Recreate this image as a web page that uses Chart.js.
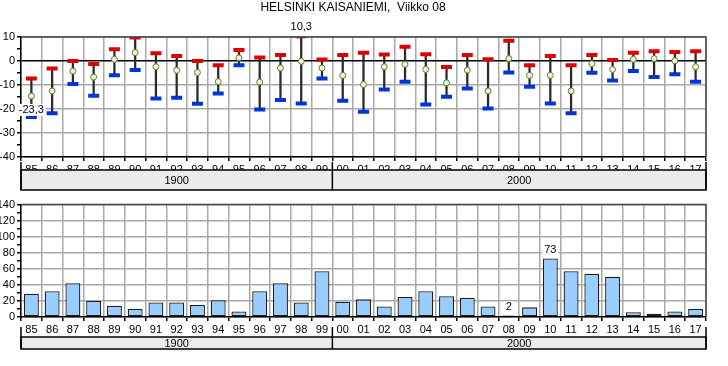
<!DOCTYPE html>
<html>
<head>
<meta charset="utf-8">
<script src="https://cdn.jsdelivr.net/npm/chart.js@4/dist/chart.umd.min.js"></script>
<style>
body{margin:0;background:#fff;width:728px;height:366px;overflow:hidden;position:relative}
canvas{position:absolute;left:0}
#temp{top:0}
#rain{top:196px}
</style>
</head>
<body>
<canvas id="temp" width="728" height="196"></canvas>
<canvas id="rain" width="728" height="170"></canvas>
<script>
const title='HELSINKI KAISANIEMI,  Viikko 08';
const years=['85','86','87','88','89','90','91','92','93','94','95','96','97','98','99',
    '00','01','02','03','04','05','06','07','08','09','10','11','12','13','14','15','16','17'];
const groupLabels=['1900','2000'];
const groupSizes=[15,18];
const maxT=[-7.3,-3.1,0,-1.3,4.9,9.8,3.2,2.1,0,-1.8,4.6,1.5,2.5,10.3,0.6,
    2.5,3.4,2.7,5.9,2.8,-2.5,2.5,0.7,8.4,-1.8,2.1,-1.8,2.5,0.4,3.4,4.1,3.8,4.1];
const meanT=[-14.6,-12.5,-4.2,-6.7,0.7,3.5,-2.4,-3.9,-4.8,-8.6,1.3,-8.8,-2.9,-0.1,-2.9,
    -6.0,-9.8,-2.4,-1.4,-3.5,-9.1,-3.8,-12.5,1.0,-6.0,-6.0,-12.5,-1.1,-3.5,0.7,1.0,0.1,-2.4];
const minT=[-23.3,-21.8,-9.6,-14.5,-5.9,-3.7,-15.6,-15.3,-17.8,-13.5,-1.8,-20.2,-16.2,-17.7,-7.3,
    -16.6,-21.1,-11.9,-8.6,-18.1,-14.9,-11.5,-19.8,-4.8,-10.7,-17.7,-21.8,-4.9,-8.1,-4.2,-6.7,-5.5,-8.6];
const rain=[29,32,42,20,14,10,18,18,15,21,7,32,42,18,57,
    19,22,13,25,32,26,24,13,2,12,73,57,54,50,6,4,7,10];

const FONT="'Liberation Sans', Arial, sans-serif";
Chart.defaults.font.family=FONT;
Chart.defaults.font.size=11;
Chart.defaults.color='#000';

const GRID='#a8a8a8';

// labels of the extreme values, white box behind
function valueLabel(chart,dsIndex,idx,text,dy){
    const p=chart.getDatasetMeta(dsIndex).data[idx];
    const ctx=chart.ctx;
    ctx.save();
    ctx.font='11px '+FONT;
    const w=ctx.measureText(text).width;
    ctx.fillStyle='#fff';
    ctx.fillRect(p.x-w/2-2,p.y+dy-6,w+4,12);
    ctx.fillStyle='#000';
    ctx.textAlign='center';
    ctx.textBaseline='middle';
    ctx.fillText(text,p.x,p.y+dy);
    ctx.restore();
}

// plot frame + century band under the year labels
function bandPlugin(lineOff,bandTop,bandBottom){
    return {
        id:'band',
        afterDraw(chart){
            const ctx=chart.ctx,a=chart.chartArea,xs=chart.scales.x;
            const cw=(a.right-a.left)/years.length;
            ctx.save();
            ctx.strokeStyle='#444';
            ctx.lineWidth=1.5;
            ctx.beginPath();
            ctx.moveTo(a.left,a.top);ctx.lineTo(a.right,a.top);ctx.lineTo(a.right,a.bottom);
            ctx.stroke();
            ctx.fillStyle='#ebebeb';
            ctx.fillRect(a.left,bandTop,a.right-a.left,bandBottom-bandTop);
            ctx.strokeStyle='#000';
            ctx.strokeRect(a.left,bandTop,a.right-a.left,bandBottom-bandTop);
            let start=0;
            ctx.font='11px '+FONT;
            ctx.textAlign='center';
            ctx.textBaseline='middle';
            ctx.fillStyle='#000';
            ctx.beginPath();
            ctx.moveTo(a.left,a.bottom+lineOff);ctx.lineTo(a.left,bandBottom);
            groupLabels.forEach((g,k)=>{
                const x0=xs.getPixelForValue(start)-cw/2;
                const x1=xs.getPixelForValue(start+groupSizes[k]-1)+cw/2;
                ctx.moveTo(x1,a.bottom+lineOff);ctx.lineTo(x1,bandBottom);
                ctx.fillText(g,(x0+x1)/2,(bandTop+bandBottom)/2+1);
                start+=groupSizes[k];
            });
            ctx.stroke();
            ctx.restore();
        }
    };
}

const xAxis=(h)=>({
    grid:{offset:true,color:GRID,lineWidth:1.5,tickLength:4,tickColor:'#000'},
    border:{color:'#000',width:1.5},
    ticks:{padding:2,maxRotation:0,autoSkip:false},
    afterFit(s){s.height=h;}
});

function yAxis(min,max,minor,major,zeroBlack){
    return {
        min:min,max:max,
        ticks:{stepSize:minor,padding:2,autoSkip:false,callback:v=>v%major===0?v:''},
        grid:{
            color:c=>(zeroBlack&&c.tick.value===0)?'#000':(c.tick.value%major!==0?'rgba(0,0,0,0)':GRID),
            lineWidth:1.5,
            tickLength:4,tickColor:'#000'
        },
        border:{color:'#000',width:1.5},
        afterFit(s){s.width=21;}
    };
}

const tempChart=new Chart(document.getElementById('temp'),{
    type:'bar',
    data:{
        labels:years,
        datasets:[
            {type:'line',data:meanT,showLine:false,pointStyle:'circle',pointRadius:3,
                pointBackgroundColor:'#e6f7dc',pointBorderColor:'#6f7a2c',pointBorderWidth:1,order:1},
            {type:'line',data:maxT,showLine:false,pointStyle:'line',pointRadius:5.5,
                borderColor:'#e00000',pointBorderWidth:4,order:2},
            {type:'line',data:minT,showLine:false,pointStyle:'line',pointRadius:5.5,
                borderColor:'#0036d6',pointBorderWidth:4,order:2},
            {type:'bar',data:minT.map((v,i)=>[v,maxT[i]]),backgroundColor:'#2a2a2a',
                barThickness:1.6,order:3}
        ]
    },
    options:{
        responsive:false,animation:false,devicePixelRatio:1,
        layout:{padding:{top:37,right:22,left:0,bottom:0}},
        plugins:{legend:{display:false},tooltip:{enabled:false}},
        scales:{x:xAxis(39),y:yAxis(-40,10,5,10,true)}
    },
    plugins:[bandPlugin(5,170,190),{
        id:'labels',
        afterDraw(chart){
            const lo=minT.indexOf(Math.min(...minT));
            const hi=maxT.indexOf(Math.max(...maxT));
            valueLabel(chart,2,lo,minT[lo].toFixed(1).replace('.',','),-7);
            valueLabel(chart,1,hi,maxT[hi].toFixed(1).replace('.',','),-9);
            const ctx=chart.ctx;
            ctx.save();
            ctx.font='12px '+FONT;
            ctx.textAlign='center';
            ctx.textBaseline='middle';
            ctx.fillStyle='#000';
            ctx.fillText(title,353,8);
            ctx.restore();
        }
    }]
});

const rainChart=new Chart(document.getElementById('rain'),{
    type:'bar',
    data:{
        labels:years,
        datasets:[{data:rain,backgroundColor:'#99ccff',borderColor:'#1e1e1e',borderWidth:1.3,
            borderSkipped:false,barPercentage:0.72,categoryPercentage:1}]
    },
    options:{
        responsive:false,animation:false,devicePixelRatio:1,
        layout:{padding:{top:4,right:22,left:0,bottom:0}},
        plugins:{legend:{display:false},tooltip:{enabled:false}},
        scales:{x:xAxis(49),y:yAxis(0,140,10,20,false)}
    },
    plugins:[bandPlugin(10,141,153),{
        id:'labels',
        afterDraw(chart){
            const hi=rain.indexOf(Math.max(...rain));
            const lo=rain.indexOf(Math.min(...rain));
            valueLabel(chart,0,hi,String(rain[hi]),-8);
            valueLabel(chart,0,lo,String(rain[lo]),-8);
        }
    }]
});
</script>
</body>
</html>
